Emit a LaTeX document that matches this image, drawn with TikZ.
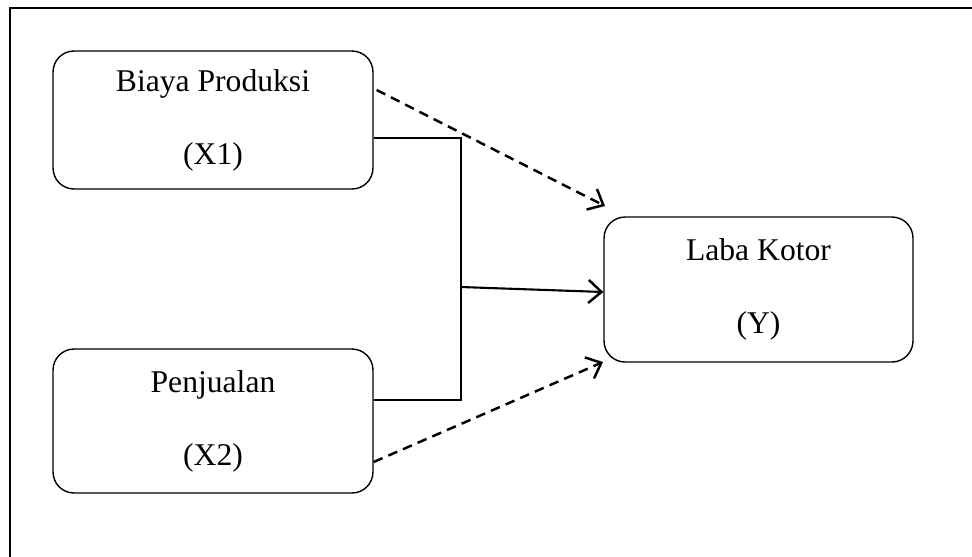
\documentclass[tikz,border=0pt]{standalone}
\usepackage{fontspec}
\setmainfont{Liberation Serif}
\usetikzlibrary{arrows.meta,calc}

\begin{document}
\begin{tikzpicture}[x=0.02cm,y=-0.02cm,
  varbox/.style={draw,rounded corners=0.42cm,line width=0.8pt,align=center,
    inner sep=0pt,font=\fontsize{18}{41.5}\selectfont},
  link/.style={line width=1.2pt,-{Straight Barb[length=2.6mm,width=4.6mm,line width=1.4pt]}},
  dashlink/.style={link,line width=1.4pt,dash pattern=on 5.5pt off 3.6pt}]
\useasboundingbox (0,0) rectangle (972,556);
\draw[line width=1.1pt] (10,560) -- (10,8) -- (980,8);
\node[varbox,minimum width=6.4cm,minimum height=2.76cm] (x1) at (213,120) {Biaya Produksi\\(X1)};
\node[varbox,minimum width=6.4cm,minimum height=2.88cm] (x2) at (213,421) {Penjualan\\(X2)};
\node[varbox,minimum width=6.18cm,minimum height=2.9cm] (y) at (758.5,289.5) {Laba Kotor\\(Y)};
\coordinate (j1) at (461,138);
\coordinate (j2) at (461,400);
\coordinate (jm) at (461,287);
\coordinate (d1) at (605,206);
\coordinate (d2) at (603,362);
\draw[line width=1pt] (x1.east |- j1) -- (j1) -- (j2) -- (x2.east |- j2);
\draw[link] (jm) -- (y.west |- 0,292);
\draw[dashlink] ([xshift=0.06cm,yshift=0.6cm]x1.east) -- (d1);
\draw[dashlink] ([yshift=-0.82cm]x2.east) -- (d2);
\end{tikzpicture}
\end{document}
